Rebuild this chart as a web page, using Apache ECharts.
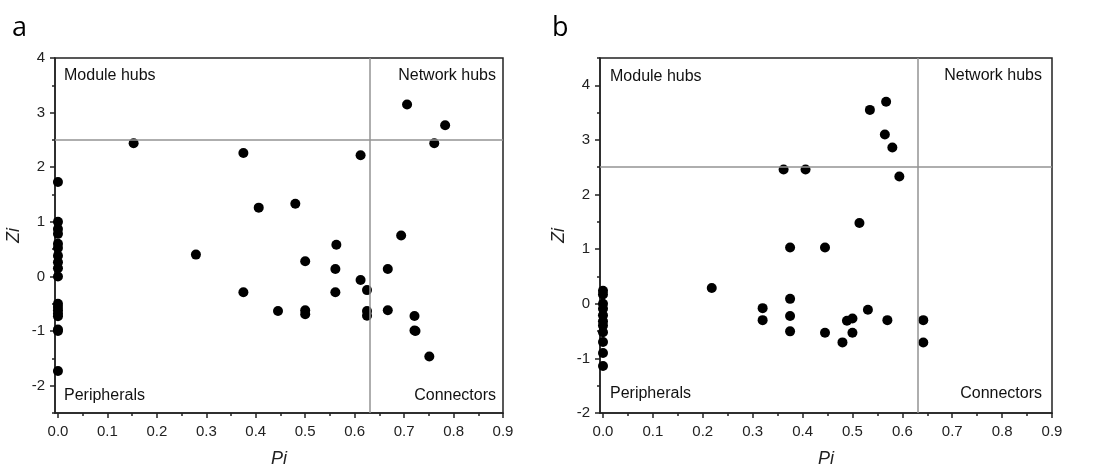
<!DOCTYPE html>
<html>
<head>
<meta charset="utf-8">
<script src="https://cdn.jsdelivr.net/npm/echarts@6/dist/echarts.min.js"></script>
<style>html,body{margin:0;padding:0;background:#fff;}#c{width:1102px;height:474px;}</style>
</head>
<body>
<div id="c"></div>
<script>
// Panel a
var aPi = [0,0,0,0,0,0,0,0,0,0,0,0,0,0,0,0,0,0,
  0.153,0.375,0.612,0.706,0.783,0.761,0.406,0.48,0.279,0.694,0.563,0.5,0.561,0.667,0.612,0.625,0.375,0.561,0.445,0.5,0.5,0.625,0.625,0.667,0.721,0.721,0.723,0.751];
var aZi = [1.73,1.0,0.87,0.78,0.6,0.52,0.38,0.26,0.15,0.0,-0.5,-0.56,-0.62,-0.68,-0.73,-0.97,-1.0,-1.73,
  2.44,2.26,2.22,3.15,2.77,2.44,1.26,1.33,0.40,0.75,0.58,0.28,0.135,0.135,-0.066,-0.25,-0.29,-0.29,-0.634,-0.62,-0.69,-0.634,-0.72,-0.62,-0.725,-0.99,-1.0,-1.464];
// Panel b
var bPi = [0,0,0,0,0,0,0,0,0,0,0,
  0.5675,0.535,0.565,0.58,0.362,0.406,0.594,0.514,0.375,0.445,0.218,0.375,0.32,0.32,0.375,0.375,0.445,0.48,0.489,0.5,0.5,0.531,0.57,0.642,0.642];
var bZi = [0.24,0.17,0.0,-0.09,-0.21,-0.32,-0.4,-0.52,-0.70,-0.9,-1.14,
  3.70,3.55,3.10,2.86,2.46,2.46,2.33,1.48,1.03,1.03,0.29,0.09,-0.08,-0.30,-0.225,-0.505,-0.53,-0.707,-0.31,-0.27,-0.53,-0.11,-0.30,-0.30,-0.71];
var xLabels = [0,0.1,0.2,0.3,0.4,0.5,0.6,0.7,0.8,0.9];
var xMinor = [0.05,0.15,0.25,0.35,0.45,0.55,0.65,0.75,0.85];
var aYLabels = [-2,-1,0,1,2,3,4];
var aYMinor = [-2.5,-1.5,-0.5,0.5,1.5,2.5,3.5];
var bYLabels = [-2,-1,0,1,2,3,4];
var bYMinor = [-1.5,-0.5,0.5,1.5,2.5,3.5,4.5];
var piCut = 0.625, ziCut = 2.5;
var quadrants = ['Module hubs','Network hubs','Peripherals','Connectors'];

function zip(a,b){ return a.map(function(v,i){ return [v,b[i]]; }); }

var axisCol = '#222';
var fontFam = "'Liberation Sans', Arial, sans-serif";
function mainX(gi){
  return {gridIndex:gi, type:'value', min:-0.006, max:0.9, position:'bottom',
    name:'Pi', nameLocation:'middle', nameGap:37,
    nameTextStyle:{fontStyle:'italic', fontSize:18, color:axisCol, fontFamily:fontFam},
    axisLine:{show:true, onZero:false, lineStyle:{color:axisCol, width:1.5}},
    axisTick:{show:true, length:5, customValues:xLabels, lineStyle:{color:axisCol, width:1.5}},
    axisLabel:{show:true, customValues:xLabels, margin:11, fontSize:15, color:axisCol, fontFamily:fontFam,
      formatter:function(v){ return v.toFixed(1); }},
    splitLine:{show:false}};
}
function minorX(gi){
  return {gridIndex:gi, type:'value', min:-0.006, max:0.9, position:'bottom',
    axisLine:{show:false, onZero:false}, axisLabel:{show:false}, splitLine:{show:false},
    axisTick:{show:true, length:3, customValues:xMinor, lineStyle:{color:axisCol, width:1.5}}};
}
function mainY(gi,min,max,labels){
  return {gridIndex:gi, type:'value', min:min, max:max, position:'left',
    name:'Zi', nameLocation:'middle', nameGap:32,
    nameTextStyle:{fontStyle:'italic', fontSize:18, color:axisCol, fontFamily:fontFam},
    axisLine:{show:true, onZero:false, lineStyle:{color:axisCol, width:1.5}},
    axisTick:{show:true, length:5, customValues:labels, lineStyle:{color:axisCol, width:1.5}},
    axisLabel:{show:true, customValues:labels, margin:10, fontSize:15, color:axisCol, fontFamily:fontFam},
    splitLine:{show:false}};
}
function minorY(gi,min,max,minor){
  return {gridIndex:gi, type:'value', min:min, max:max, position:'left',
    axisLine:{show:false, onZero:false}, axisLabel:{show:false}, splitLine:{show:false},
    axisTick:{show:true, length:3, customValues:minor, lineStyle:{color:axisCol, width:1.5}}};
}
function cutSeries(xi,yi){
  return {type:'scatter', xAxisIndex:xi, yAxisIndex:yi, data:[], z:1, silent:true,
    markLine:{silent:true, symbol:'none', animation:false,
      lineStyle:{color:'#939393', width:1.5, type:'solid'}, label:{show:false},
      data:[{xAxis:piCut},{yAxis:ziCut}]}};
}
function dots(xi,yi,d){
  return {type:'scatter', xAxisIndex:xi, yAxisIndex:yi, data:d, z:3,
    symbol:'circle', symbolSize:10, itemStyle:{color:'#000', opacity:1}};
}
function qText(x,y,txt,align){
  return {type:'text', x:x, y:y, z:10, style:{text:txt, fill:'#111', fontSize:16, fontFamily:fontFam,
    textAlign:align, textVerticalAlign:'middle'}};
}

var chart = echarts.init(document.getElementById('c'), null, {renderer:'canvas'});
chart.setOption({
  animation:false,
  backgroundColor:'#fff',
  grid:[
    {left:55, top:58, width:448, height:355, show:true, borderColor:axisCol, borderWidth:1.5, backgroundColor:'transparent'},
    {left:600, top:58, width:452, height:355, show:true, borderColor:axisCol, borderWidth:1.5, backgroundColor:'transparent'}
  ],
  xAxis:[mainX(0), minorX(0), mainX(1), minorX(1)],
  yAxis:[mainY(0,-2.5,4,aYLabels), minorY(0,-2.5,4,aYMinor), mainY(1,-2,4.5,bYLabels), minorY(1,-2,4.5,bYMinor)],
  series:[
    cutSeries(0,0), dots(0,0,zip(aPi,aZi)),
    cutSeries(2,2), dots(2,2,zip(bPi,bZi))
  ],
  graphic:[
    {type:'text', x:12, y:28, style:{text:'a', fill:'#000', fontSize:27, fontFamily:"'Open Sans', sans-serif", textVerticalAlign:'middle'}},
    {type:'text', x:552, y:28, style:{text:'b', fill:'#000', fontSize:27, fontFamily:"'Open Sans', sans-serif", textVerticalAlign:'middle'}},
    qText(64,76,quadrants[0],'left'), qText(496,76,quadrants[1],'right'),
    qText(64,396,quadrants[2],'left'), qText(496,396,quadrants[3],'right'),
    qText(610,77,quadrants[0],'left'), qText(1042,76,quadrants[1],'right'),
    qText(610,394,quadrants[2],'left'), qText(1042,394,quadrants[3],'right')
  ]
});
</script>
</body>
</html>
